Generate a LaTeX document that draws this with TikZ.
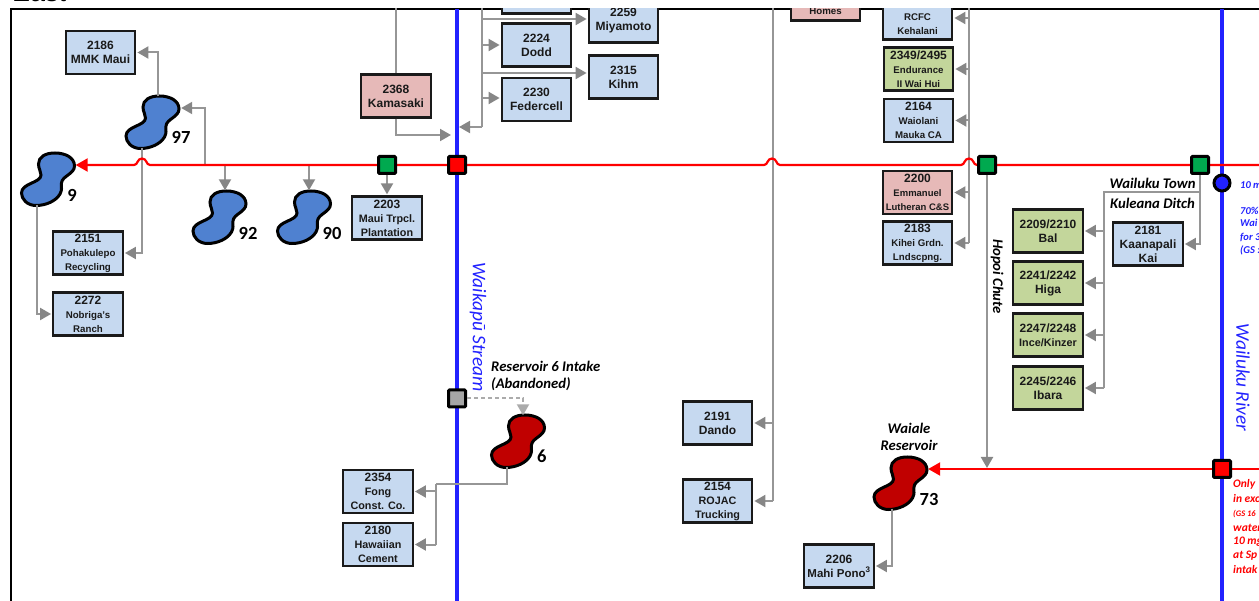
\documentclass[tikz,border=0pt]{standalone}
\usepackage{fontspec}
\setmainfont{Liberation Sans}
\newfontfamily\carl{Carlito}
\usetikzlibrary{arrows.meta,calc}
\definecolor{boxblue}{HTML}{C6D9F0}
\definecolor{boxpink}{HTML}{E6B9B8}
\definecolor{boxgreen}{HTML}{C3D69B}
\definecolor{pipegray}{HTML}{969696}
\definecolor{tipgray}{HTML}{868686}
\definecolor{resblue}{HTML}{4F81D0}
\definecolor{resred}{HTML}{C00000}
\definecolor{riverblue}{HTML}{2222FF}
\definecolor{sqgreen}{HTML}{00A94F}
\definecolor{ink}{HTML}{1A1A1A}
\tikzset{
  x=1pt,y=-1pt,
  pbox/.style={draw=ink,line width=2.3pt,minimum width=69.5pt,minimum height=43pt,inner sep=0pt,
     align=center,text=ink,font=\bfseries\fontsize{12}{14}\selectfont},
  bl/.style={pbox,fill=boxblue},
  pk/.style={pbox,fill=boxpink},
  gr/.style={pbox,fill=boxgreen},
  boxtext/.style={inner sep=0pt,align=center,text=ink,font=\bfseries\fontsize{9.7}{14}\selectfont},
  pipe/.style={draw=pipegray,line width=2pt,-{Triangle[length=11pt,width=12pt,color=tipgray]},shorten >=1pt},
  pipeline/.style={draw=pipegray,line width=2pt},
  redpipe/.style={draw=red,line width=2.2pt},
  sq/.style={draw=black,line width=3pt,minimum size=17pt,inner sep=0pt,rounded corners=1pt},
  resv/.style={draw=black,line width=3pt},
  resholder/.style={minimum width=55pt,minimum height=51pt,inner sep=0pt},
  resnum/.style={inner sep=0pt,text=black,font=\carl\bfseries\fontsize{18.5}{20}\selectfont},
  tag/.style={inner sep=0pt,text=black,align=left,font=\carl\bfseries\itshape\fontsize{14.7}{17}\selectfont},
  rivertext/.style={inner sep=0pt,text=riverblue,rotate=-90,font=\carl\itshape\fontsize{19.3}{20}\selectfont},
  bluenote/.style={inner sep=0pt,anchor=west,text=riverblue,font=\carl\bfseries\itshape\fontsize{10.5}{12}\selectfont},
  rednote/.style={inner sep=0pt,anchor=west,text=red,font=\carl\bfseries\itshape\fontsize{11.5}{12}\selectfont},
}
% #1 first-line number, #2/#3 lower lines, #4 size of lower lines
\newcommand{\threel}[4]{#1\\{\fontsize{#4}{14}\selectfont #2}\\{\fontsize{#4}{14}\selectfont #3}}
% #1 name, #2 centre, #3 fill
\newcommand{\reservoir}[3]{%
  \node[resholder] (#1) at (#2) {};
  \draw[resv,fill=#3,shift={(#2)}] (-9.5,-15) .. controls (-9.5,-22) and (-3,-26) .. (7,-26)
    .. controls (18,-26) and (26.5,-21) .. (26.5,-13)
    .. controls (26.5,-5) and (14,-3) .. (13.5,4)
    .. controls (13,9) and (14.5,10) .. (12,15)
    .. controls (8,22) and (-2,26.5) .. (-12,26.5)
    .. controls (-21,26.5) and (-26.5,20) .. (-26.5,14)
    .. controls (-26.5,4) and (-7,4) .. (-7,-4)
    .. controls (-7,-8) and (-9.5,-10) .. (-9.5,-15) -- cycle;
}
\newcommand{\hopat}[1]{-- (#1+8,165) .. controls (#1+4,165) and (#1+5,158.5) .. (#1,158.5) .. controls (#1-5,158.5) and (#1-4,165) .. (#1-8,165)}
\begin{document}
\begin{tikzpicture}
\useasboundingbox (0,0) rectangle (1259,601);
\begin{scope}
\clip (0,0) rectangle (1259,601);

% heading remnant above the frame
\begin{scope}
\clip (0,0) rectangle (1259,3);
\node[anchor=base west,inner sep=0pt,text=black,font=\fontsize{27}{27}\selectfont] (headtext) at (12,2) {East};
\end{scope}

% frame
\draw[black,line width=1.1pt] (1259,9) -- (11,9) -- (11,601);

\begin{scope}
\clip (11,9) rectangle (1259,601);

% free ends
\coordinate (topA) at (396,0);
\coordinate (topB) at (482,0);
\coordinate (topC) at (773,0);
\coordinate (topD) at (969,0);
\coordinate (edgeA) at (1259,165);
\coordinate (edgeB) at (1259,469);
\coordinate (riverAtop) at (457,9);
\coordinate (riverAbot) at (457,601);
\coordinate (riverBtop) at (1222,9);
\coordinate (riverBbot) at (1222,601);
\coordinate (tapA) at (205,165);
\coordinate (tapB) at (225,165);
\coordinate (tapC) at (309,165);
\coordinate (riverAin) at (452,135);
\coordinate (riverAout) at (458,127);
\coordinate (joinB) at (482,127);
\coordinate (joinC) at (773,501);
\coordinate (joinD) at (969,243);
\coordinate (joinE) at (1200,192);
\coordinate (joinF) at (1104,192);
\coordinate (joinG) at (1104,388);
\coordinate (joinH) at (436,484);
\coordinate (joinI) at (436,544.5);
\coordinate (joinJ) at (987,469);

% rivers
\draw[riverblue,line width=4.6pt] (riverAtop) -- (riverAbot);
\draw[riverblue,line width=4.6pt] (riverBtop) -- (riverBbot);

% boxes
\node[bl] (b2186) at (100.5,52.5) {2186\\MMK Maui};
\node[bl] (b2151) at (88,253) {\threel{2151}{Pohakulepo}{Recycling}{9.7}};
\node[bl] (b2272) at (88,314) {\threel{2272}{Nobriga's}{Ranch}{9.7}};
\node[bl] (b2203) at (387,218) {\threel{2203}{Maui Trpcl.}{Plantation}{10.8}};
\node[pk] (b2368) at (396,96) {2368\\Kamasaki};
\node[bl] (bhidden) at (536.5,-8) {};
\node[bl] (b2224) at (536.5,45) {2224\\Dodd};
\node[bl] (b2230) at (536.5,99.5) {2230\\Federcell};
\node[bl] (b2259) at (623.5,21) {2259\\Miyamoto};
\node[bl] (b2315) at (623.5,77) {2315\\Kihm};
\node[pk] (bhomes) at (825.5,-1) {};
\node[boxtext] (thomes) at (825.5,11) {Homes};
\node[bl] (brcfc) at (917.5,18) {};
\node[boxtext] (trcfc) at (917.5,24) {RCFC\\Kehalani};
\node[gr] (b2349) at (918.5,69) {\threel{2349/2495}{Endurance}{II Wai Hui}{9.7}};
\node[bl] (b2164) at (918.5,120.5) {\threel{2164}{Waiolani}{Mauka CA}{9.7}};
\node[pk] (b2200) at (917.5,192.5) {\threel{2200}{Emmanuel}{Lutheran C\&S}{9.5}};
\node[bl] (b2183) at (917.5,243) {\threel{2183}{Kihei Grdn.}{Lndscpng.}{9.7}};
\node[gr] (b2209) at (1048,231) {2209/2210\\Bal};
\node[gr] (b2241) at (1048,283) {2241/2242\\Higa};
\node[gr] (b2247) at (1048,335) {2247/2248\\{\fontsize{10.8}{14}\selectfont Ince/Kinzer}};
\node[gr] (b2245) at (1048,388) {2245/2246\\Ibara};
\node[bl] (b2181) at (1148,244) {\threel{2181}{Kaanapali}{Kai}{12}};
\node[bl] (b2354) at (378,491.5) {\threel{2354}{Fong}{Const. Co.}{10.8}};
\node[bl] (b2180) at (378,544.5) {\threel{2180}{Hawaiian}{Cement}{10.8}};
\node[bl] (b2191) at (717.5,423) {2191\\Dando};
\node[bl] (b2154) at (717.5,501) {\threel{2154}{ROJAC}{Trucking}{10.8}};
\node[bl] (b2206) at (839,566) {2206\\{\fontsize{11.5}{14}\selectfont Mahi Pono\textsuperscript{3}}};

% reservoirs
\reservoir{r9}{48,179}{resblue}
\reservoir{r97}{152.5,122}{resblue}
\reservoir{r92}{219.5,217}{resblue}
\reservoir{r90}{304,217}{resblue}
\reservoir{r6}{518,441}{resred}
\reservoir{r73}{900.5,483}{resred}
\node[resnum] (n9) at (72,195) {9};
\node[resnum] (n97) at (181,137) {97};
\node[resnum] (n92) at (248,233) {92};
\node[resnum] (n90) at (332,233) {90};
\node[resnum] (n6) at (541.7,456.7) {6};
\node[resnum] (n73) at (929,499) {73};

% grey connectors
\draw[pipe] ([xshift=5pt]r97.north) |- (b2186.east);
\draw[pipe] (tapA) |- ([yshift=14pt]r97.east);
\draw[pipe] ([xshift=-11pt]r97.south) |- (b2151.east);
\draw[pipe] ([xshift=-11pt]r9.south) |- (b2272.west);
\draw[pipe] (tapB) -- ([xshift=5.5pt]r92.north);
\draw[pipe] (tapC) -- ([xshift=5pt]r90.north);
\draw[pipeline] (topA) -- (b2368.north);
\draw[pipe] (b2368.south) |- (riverAin);
\draw[pipeline] (topB) -- (joinB);
\draw[pipe] (joinB) -- (riverAout);
\draw[pipe] (b2259.west |- 0,19) ++(-106,0) -- (b2259.west |- 0,19);
\draw[pipe] (joinB |- b2224.west) -- (b2224.west);
\draw[pipe] (joinB |- b2315.west) ++(0,-4) -- ([yshift=4pt]b2315.west);
\draw[pipe] (joinB |- b2230.west) ++(0,-1.5) -- ([yshift=1.5pt]b2230.west);
\draw[pipeline] (topC) -- (joinC);
\draw[pipe] (joinC) -- (b2154.east);
\draw[pipe] (topC |- b2191.east) -- (b2191.east);
\draw[pipeline] (topD) -- (joinD);
\draw[pipe] (joinD) -- (b2183.east);
\draw[pipe] (topD |- brcfc.east) -- (brcfc.east);
\draw[pipe] (topD |- b2349.east) -- (b2349.east);
\draw[pipe] (topD |- b2164.east) -- (b2164.east);
\draw[pipe] (topD |- b2200.east) -- (b2200.east);

% red mains
\draw[redpipe,-{Triangle[length=12pt,width=13pt,color=red]}] (edgeA) \hopat{969} \hopat{772} \hopat{142} -- ([yshift=14pt]r9.east);
\draw[redpipe,-{Triangle[length=12pt,width=13pt,color=red]}] (edgeB) -- ([yshift=14pt]r73.east);

% control squares
\node[sq,fill=sqgreen] (g1) at (387,165) {};
\node[sq,fill=red] (s1) at (457,165) {};
\node[sq,fill=sqgreen] (g2) at (987,165) {};
\node[sq,fill=sqgreen] (g3) at (1200,165) {};
\node[sq,fill=red] (s2) at (1222,469) {};
\node[sq,fill=black!35] (s3) at (457,398.5) {};
\node[circle,draw=black,line width=3pt,fill=riverblue,minimum size=16pt,inner sep=0pt] (c1) at (1222,183) {};

\draw[pipe] ([xshift=-8.5pt]r73.south) |- (b2206.east);
\draw[pipe] (g3.south) |- (b2181.east);
\draw[pipeline] (joinE) -- (joinF) -- (joinG);
\draw[pipe] (joinF |- b2209.east) -- (b2209.east);
\draw[pipe] (joinF |- b2241.east) -- (b2241.east);
\draw[pipe] (joinF |- b2247.east) -- (b2247.east);
\draw[pipe] (joinG) -- (b2245.east);
\draw[pipe] (g2.south) -- (joinJ);
\draw[pipeline] ([xshift=-11pt]r6.south) |- (joinH);
\draw[pipe] (joinH |- b2354.east) -- (b2354.east);
\draw[pipeline] (joinH) -- (joinI);
\draw[pipe] (joinI) -- (b2180.east);
\draw[pipe] (g1.south) -- (b2203.north);
\draw[draw=black!33,line width=2pt,dash pattern=on 4pt off 3pt,-{Triangle[length=11pt,width=12pt,color=black!33]}] (s3.east) -| ([xshift=5pt]r6.north);

% labels
\node[rivertext] (tstream) at (478,327) {Waikapū Stream};
\node[rivertext] (triver) at (1243,377.5) {Wailuku River};
\node[tag,rotate=-90] (thopoi) at (997,276.5) {Hopoi Chute};
\node[tag] (ttown) at (1152.5,183) {Wailuku Town};
\node[tag] (tditch) at (1152.5,203) {Kuleana Ditch};
\node[tag,anchor=north west] (tres6) at (491,361) {Reservoir 6 Intake\\(Abandoned)};
\node[tag,align=center] (twaiale) at (909,437) {Waiale\\Reservoir};

% cropped side notes
\node[bluenote] (bn1) at (1240,185) {10 m};
\node[bluenote] (bn2) at (1240,211) {70\%};
\node[bluenote] (bn3) at (1240,223) {Wai};
\node[bluenote] (bn4) at (1240,237) {for 3};
\node[bluenote] (bn5) at (1240,250) {(GS :};
\node[rednote] (rn1) at (1233,484) {Only};
\node[rednote] (rn2) at (1233,499) {in exc};
\node[rednote,font=\carl\bfseries\itshape\fontsize{8.5}{10}\selectfont] (rn3) at (1233,514) {(GS 16};
\node[rednote] (rn4) at (1233,527.5) {water};
\node[rednote] (rn5) at (1233,542) {10 mg};
\node[rednote] (rn6) at (1233,556) {at Sp};
\node[rednote] (rn7) at (1233,570) {intak};
\end{scope}
\end{scope}
\end{tikzpicture}
\end{document}
